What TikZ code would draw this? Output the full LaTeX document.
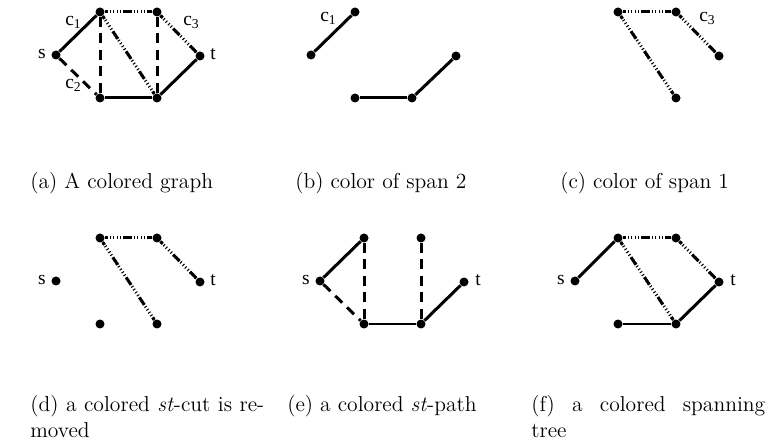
\documentclass[tikz,border=0pt]{standalone}
\usepackage{fontspec}
\newfontfamily\tms{Liberation Serif}
\begin{document}
\begin{tikzpicture}[x=0.6667pt,y=-0.6667pt,
 dot/.style={circle,fill=black,inner sep=0pt,minimum size=6pt},
 cone/.style={line width=2pt},
 ctwo/.style={line width=2pt,dash pattern=on 6.5pt off 4.5pt},
 cthree/.style={line width=2pt,dash pattern=on 6pt off 10pt,dash phase=3.7pt,
   preaction={draw,line width=2pt,dash pattern=on 0.7pt off 1.6pt}},
 lab/.style={font=\tms\fontsize{13}{15}\selectfont,inner sep=0pt},
 clab/.style={lab,anchor=base west},
 captxt/.style={anchor=base west,inner sep=0pt,font=\fontsize{14.4}{17.3}\selectfont}]
\useasboundingbox (0,0) rectangle (770,445);

% ---------- (a) ----------
\node[dot] (a-s) at (56,55) {};
\node[dot] (a-u1) at (100,12) {};
\node[dot] (a-u2) at (157,12) {};
\node[dot] (a-t) at (200,56) {};
\node[dot] (a-v1) at (100,98) {};
\node[dot] (a-v2) at (157,98) {};
\draw[cone] (a-s) -- (a-u1);
\draw[ctwo] (a-s) -- (a-v1);
\draw[cthree] (a-u1) -- (a-u2);
\draw[ctwo] (a-u1) -- (a-v1);
\draw[cthree] (a-u1) -- (a-v2);
\draw[ctwo] (a-u2) -- (a-v2);
\draw[cthree] (a-u2) -- (a-t);
\draw[cone] (a-v1) -- (a-v2);
\draw[cone] (a-v2) -- (a-t);
\node[lab] (a-sl) at (42,54) {s};
\node[lab] (a-tl) at (213,54) {t};
\node[clab] (a-c1) at (65,26) {c\textsubscript{1}};
\node[clab] (a-c2) at (65,89) {c\textsubscript{2}};
\node[clab] (a-c3) at (183,26) {c\textsubscript{3}};

% ---------- (b) ----------
\node[dot] (b-s) at (311,55) {};
\node[dot] (b-u1) at (355,12) {};
\node[dot] (b-v1) at (355,98) {};
\node[dot] (b-v2) at (412,98) {};
\node[dot] (b-t) at (456,56) {};
\draw[cone] (b-s) -- (b-u1);
\draw[cone] (b-v1) -- (b-v2);
\draw[cone] (b-v2) -- (b-t);
\node[clab] (b-c1) at (320,22) {c\textsubscript{1}};

% ---------- (c) ----------
\node[dot] (c-u1) at (618,12) {};
\node[dot] (c-u2) at (676,12) {};
\node[dot] (c-t) at (719,56) {};
\node[dot] (c-v2) at (676,98) {};
\draw[cthree] (c-u1) -- (c-u2);
\draw[cthree] (c-u1) -- (c-v2);
\draw[cthree] (c-u2) -- (c-t);
\node[clab] (c-c3) at (699,22) {c\textsubscript{3}};

% ---------- (d) ----------
\node[dot] (d-s) at (56,281) {};
\node[dot] (d-u1) at (100,238) {};
\node[dot] (d-u2) at (157,238) {};
\node[dot] (d-t) at (200,282) {};
\node[dot] (d-v1) at (100,324) {};
\node[dot] (d-v2) at (157,324) {};
\draw[cthree] (d-u1) -- (d-u2);
\draw[cthree] (d-u1) -- (d-v2);
\draw[cthree] (d-u2) -- (d-t);
\node[lab] (d-sl) at (42,280) {s};
\node[lab] (d-tl) at (213,280) {t};

% ---------- (e) ----------
\node[dot] (e-s) at (320,281) {};
\node[dot] (e-u1) at (364,238) {};
\node[dot] (e-u2) at (421,238) {};
\node[dot] (e-t) at (464,282) {};
\node[dot] (e-v1) at (364,324) {};
\node[dot] (e-v2) at (421,324) {};
\draw[cone] (e-s) -- (e-u1);
\draw[ctwo] (e-s) -- (e-v1);
\draw[ctwo] (e-u1) -- (e-v1);
\draw[ctwo] (e-u2) -- (e-v2);
\draw[cone] (e-v1) -- (e-v2);
\draw[cone] (e-v2) -- (e-t);
\node[lab] (e-sl) at (306,280) {s};
\node[lab] (e-tl) at (478,280) {t};

% ---------- (f) ----------
\node[dot] (f-s) at (575,281) {};
\node[dot] (f-u1) at (618,238) {};
\node[dot] (f-u2) at (676,238) {};
\node[dot] (f-t) at (719,282) {};
\node[dot] (f-v1) at (618,324) {};
\node[dot] (f-v2) at (676,324) {};
\draw[cone] (f-s) -- (f-u1);
\draw[cthree] (f-u1) -- (f-u2);
\draw[cthree] (f-u1) -- (f-v2);
\draw[cthree] (f-u2) -- (f-t);
\draw[cone] (f-v1) -- (f-v2);
\draw[cone] (f-v2) -- (f-t);
\node[lab] (f-sl) at (561,280) {s};
\node[lab] (f-tl) at (733,280) {t};

% ---------- captions ----------
\node[captxt] (capa) at (30,189) {(a) A colored graph};
\node[captxt] (capb) at (295,189) {(b) color of span 2};
\node[captxt] (capc) at (560,189) {(c) color of span 1};
\node[captxt] (capd) at (30,411) {\hbox to 156pt{(d) a colored \textit{st}-cut is re-}};
\node[captxt] (capd2) at (30,437) {moved};
\node[captxt] (cape) at (287,411) {(e) a colored \textit{st}-path};
\node[captxt] (capf) at (531,411) {\hbox to 156pt{(f) a colored spanning}};
\node[captxt] (capf2) at (531,437) {tree};
\end{tikzpicture}
\end{document}
